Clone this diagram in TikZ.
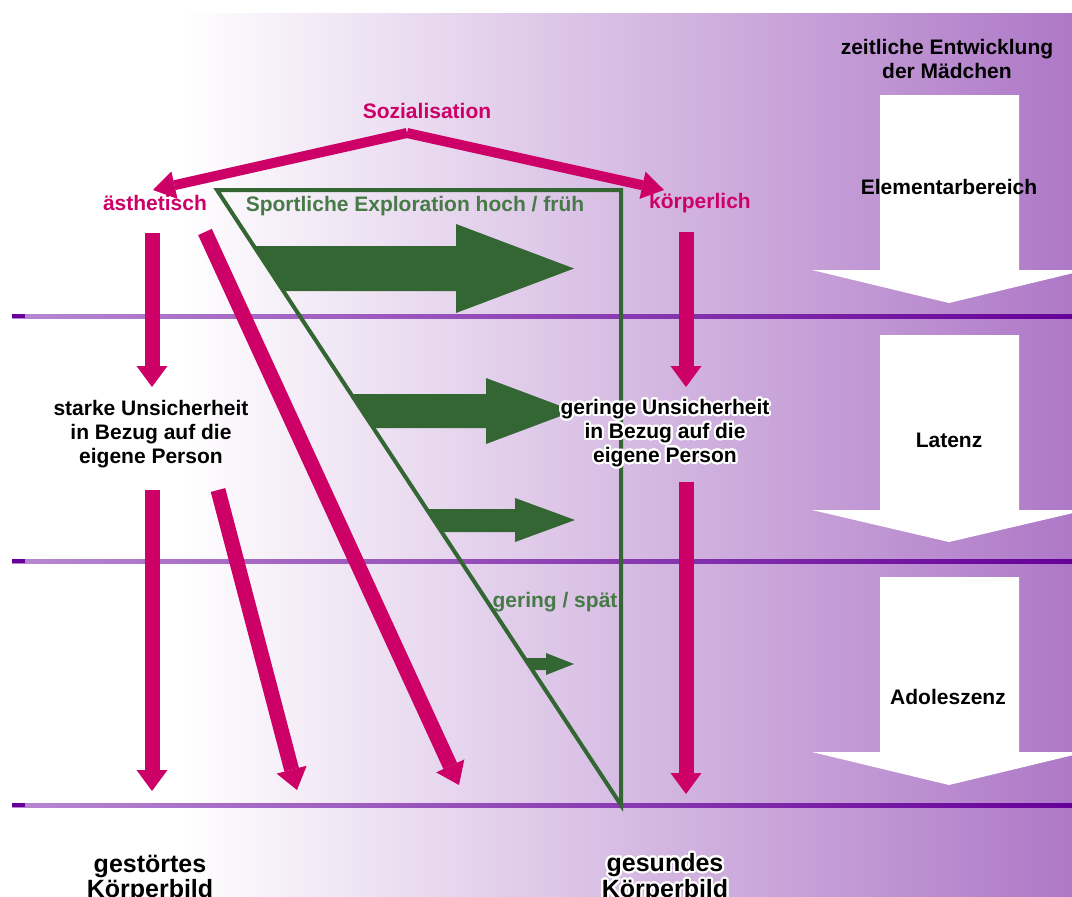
\documentclass[tikz,border=0pt]{standalone}
\usepackage{fontspec}
\setmainfont{Liberation Sans}
\usepackage{contour}
\contourlength{2pt}
\contournumber{32}
\usetikzlibrary{arrows.meta}

\definecolor{pinkc}{HTML}{CC0066}
\definecolor{grline}{HTML}{336633}
\definecolor{grtext}{HTML}{467A46}
\definecolor{bgpurple}{RGB}{174,120,199}
\definecolor{linelight}{RGB}{184,136,210}
\definecolor{linedark}{RGB}{102,0,153}

\begin{document}
\begin{tikzpicture}[x=1pt,y=-1pt,
  lbl/.style={font=\fontsize{21}{24}\selectfont\bfseries, inner sep=0pt, align=center},
  pinklbl/.style={lbl, text=pinkc},
  grlbl/.style={lbl, text=grtext},
  biglbl/.style={font=\fontsize{25}{25}\selectfont\bfseries, inner sep=0pt, align=center},
  pinkarrow/.style={draw=pinkc, line width=15pt, -{Triangle[length=21pt,width=31pt,line width=0pt]}},
  socarrow/.style={draw=pinkc, line width=10pt, -{Triangle[length=22pt,width=28pt,line width=0pt]}},
  grarrow/.style={fill=grline},
  hline/.style={left color=linelight, right color=linedark},
  timearrow/.style={fill=white},
]
\useasboundingbox (0,0) rectangle (1072,897);
\clip (0,0) rectangle (1072,897);

% background
\fill[white] (0,0) rectangle (1072,897);
\shade[left color=white, right color=bgpurple] (180,13) rectangle (1072,897);

% phase boundaries
\foreach \y in {316,561,805}{
  \shade[hline] (12,\y-2) rectangle (1072,\y+2);
  \fill[linedark] (12,\y-2) rectangle (25,\y+2);
}

% time arrows on the right
\fill[timearrow] (880,95) -- (1019,95) -- (1019,270) -- (1086,270) -- (949,303) -- (812,270) -- (880,270) -- cycle;
\fill[timearrow] (880,335) -- (1019,335) -- (1019,510) -- (1086,510) -- (949,542) -- (812,510) -- (880,510) -- cycle;
\fill[timearrow] (880,577) -- (1019,577) -- (1019,752) -- (1086,752) -- (949,785) -- (812,752) -- (880,752) -- cycle;

% exploration block arrows
\fill[grarrow] (253.8,246) -- (456,246) -- (456,224) -- (574,268.5) -- (456,313) -- (456,291) -- (283.3,291) -- cycle;
\fill[grarrow] (351.0,394) -- (486,394) -- (486,378) -- (574,411) -- (486,444) -- (486,428) -- (373.3,428) -- cycle;
\fill[grarrow] (426.6,509) -- (515,509) -- (515,498) -- (575,520) -- (515,542) -- (515,532) -- (441.7,532) -- cycle;
\fill[grarrow] (524.4,658) -- (546,658) -- (546,653) -- (574,664) -- (546,675) -- (546,670) -- (532.3,670) -- cycle;

% exploration triangle
\coordinate (tA) at (217,190);
\coordinate (tB) at (621,190);
\coordinate (tC) at (621,805);
\draw[grline, line width=4pt, line join=miter] (tA) -- (tB) -- (tC) -- cycle;

% socialisation arrows
\coordinate (apex) at (407,133);
\coordinate (aesTip) at (153,190);
\coordinate (koeTip) at (664,190);
\draw[socarrow] (apex) -- (aesTip);
\draw[socarrow] (apex) -- (koeTip);

% pink development arrows
\coordinate (l1s) at (152,233);  \coordinate (l1e) at (152,387);
\coordinate (d1s) at (205,232);  \coordinate (d1e) at (459,785);
\coordinate (l2s) at (152,490);  \coordinate (l2e) at (152,791);
\coordinate (d2s) at (218,490);  \coordinate (d2e) at (297,790);
\coordinate (r1s) at (686,232);  \coordinate (r1e) at (686,387);
\coordinate (r2s) at (686,482);  \coordinate (r2e) at (686,794);
\draw[pinkarrow] (l1s) -- (l1e);
\draw[pinkarrow] (d1s) -- (d1e);
\draw[pinkarrow] (l2s) -- (l2e);
\draw[pinkarrow] (d2s) -- (d2e);
\draw[pinkarrow] (r1s) -- (r1e);
\draw[pinkarrow] (r2s) -- (r2e);

% labels
\node[pinklbl] (soz) at (427,111) {Sozialisation};
\node[pinklbl] (aes) at (155,203) {ästhetisch};
\node[pinklbl] (koe) at (700,203) {körperlich};
\node[grlbl] (expl) at (415,206) {Sportliche Exploration hoch / früh};
\node[grlbl] (gering) at (555,602) {gering / spät};
\node[lbl] (zeit) at (947,59) {zeitliche Entwicklung\\der Mädchen};
\node[lbl] (elem) at (949,187) {Elementarbereich};
\node[lbl] (lat) at (949,440) {Latenz};
\node[lbl] (ado) at (948,697) {Adoleszenz};
\node[lbl] (stark) at (151,434) {starke Unsicherheit\\in Bezug auf die\\eigene Person};
\node[lbl] (gerU) at (665,434) {\contour{white}{geringe Unsicherheit}\\\contour{white}{in Bezug auf die}\\\contour{white}{eigene Person}};
\node[biglbl] (gest) at (150,879) {gestörtes\\Körperbild};
\node[biglbl] (ges) at (665,879) {\contour{white}{gesundes}\\\contour{white}{Körperbild}};
\end{tikzpicture}
\end{document}
